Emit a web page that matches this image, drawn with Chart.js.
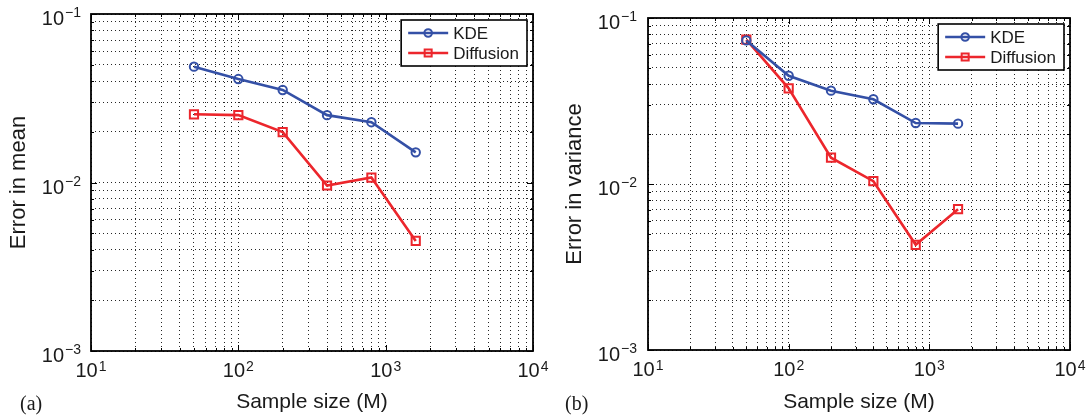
<!DOCTYPE html>
<html>
<head>
<meta charset="utf-8">
<script src="https://cdn.jsdelivr.net/npm/chart.js@4.4.0/dist/chart.umd.min.js"></script>
<style>
    html, body { margin: 0; padding: 0; background: #fff; }
    #wrap { position: relative; width: 1090px; height: 418px; overflow: hidden; }
    .panel { position: absolute; top: 0; height: 418px; }
    #panelA { left: 0; width: 560px; }
    #panelB { left: 545px; width: 545px; }
</style>
</head>
<body>
<div id="wrap">
    <div class="panel" id="panelA"><canvas id="meanChart" width="560" height="418"></canvas></div>
    <div class="panel" id="panelB"><canvas id="varChart" width="545" height="418"></canvas></div>
</div>
<script>
// --- data ---
const sampleSizes = [50, 100, 200, 400, 800, 1600];
const seriesNames = ['KDE', 'Diffusion'];

const meanKDE       = [0.0487, 0.0411, 0.0354, 0.0251, 0.0228, 0.0151];
const meanDiffusion = [0.0254, 0.0251, 0.0199, 0.0096, 0.0107, 0.0045];

const varKDE        = [0.0733, 0.0449, 0.0365, 0.0324, 0.0233, 0.0231];
const varDiffusion  = [0.0740, 0.0377, 0.0144, 0.0104, 0.0043, 0.00705];

// decade tick labels (10^exp)
const xTickExps = [1, 2, 3, 4];
const yTickExps = [-3, -2, -1];
const minorSteps = [1, 2, 3, 4, 5, 6, 7, 8, 9];

const BLUE = '#3450a6';
const RED = '#ec262c';
const SANS = '"Liberation Sans", Arial, Helvetica, sans-serif';

function gridValues(exps) {
    const vals = [];
    exps.forEach(function (e, i) {
        if (i === exps.length - 1) { vals.push(Math.pow(10, e)); return; }
        minorSteps.forEach(function (m) { vals.push(m * Math.pow(10, e)); });
    });
    return vals;
}

function isDecade(v) {
    const l = Math.log10(v);
    return Math.abs(l - Math.round(l)) < 1e-9;
}

function drawPower(ctx, exp, x, y, align, raise) {
    const base = '10';
    const sup = (exp < 0 ? '\u2212' : '') + Math.abs(exp);
    ctx.font = '20px ' + SANS;
    const wb = ctx.measureText(base).width;
    ctx.font = '14px ' + SANS;
    const ws = ctx.measureText(sup).width;
    const total = wb + ws + 1;
    let x0 = align === 'right' ? x - total : x - total / 2;
    ctx.textAlign = 'left';
    ctx.textBaseline = 'alphabetic';
    ctx.font = '20px ' + SANS;
    ctx.fillText(base, x0, y);
    ctx.font = '14px ' + SANS;
    ctx.fillText(sup, x0 + wb + 1, y - raise);
}

// frame, inward ticks, decade labels, legend, panel tag
const matlabAxes = {
    id: 'matlabAxes',
    afterDraw(chart, args, opts) {
        const { ctx, chartArea: a, scales: { x, y } } = chart;
        ctx.save();
        ctx.fillStyle = '#1a1a1a';
        ctx.strokeStyle = '#000';

        // inward ticks
        ctx.lineWidth = 1;
        ctx.beginPath();
        x.ticks.forEach(function (t) {
            const px = Math.round(x.getPixelForValue(t.value)) + 0.5;
            const len = isDecade(t.value) ? 6 : 3;
            ctx.moveTo(px, a.bottom); ctx.lineTo(px, a.bottom - len);
            ctx.moveTo(px, a.top); ctx.lineTo(px, a.top + len);
        });
        y.ticks.forEach(function (t) {
            const py = Math.round(y.getPixelForValue(t.value)) + 0.5;
            const len = isDecade(t.value) ? 6 : 3;
            ctx.moveTo(a.left, py); ctx.lineTo(a.left + len, py);
            ctx.moveTo(a.right, py); ctx.lineTo(a.right - len, py);
        });
        ctx.stroke();

        // box
        ctx.lineWidth = 1.8;
        ctx.strokeRect(a.left, a.top, a.right - a.left, a.bottom - a.top);

        // decade labels
        xTickExps.forEach(function (e) {
            drawPower(ctx, e, x.getPixelForValue(Math.pow(10, e)), a.bottom + 26, 'center', 6);
        });
        yTickExps.forEach(function (e) {
            drawPower(ctx, e, a.left - opts.labelGap, y.getPixelForValue(Math.pow(10, e)) + 11, 'right', 8);
        });

        // legend
        ctx.font = '17px ' + SANS;
        let textW = 0;
        chart.data.datasets.forEach(function (d) { textW = Math.max(textW, ctx.measureText(d.label).width); });
        const lw = 52 + textW + 8, lh = 46;
        const lx = a.right - 6 - lw, ly = a.top + 6;
        ctx.fillStyle = '#fff';
        ctx.fillRect(lx, ly, lw, lh);
        ctx.lineWidth = 1.6;
        ctx.strokeStyle = '#000';
        ctx.strokeRect(lx, ly, lw, lh);
        chart.data.datasets.forEach(function (d, i) {
            const ry = ly + 13 + i * 20;
            ctx.strokeStyle = d.borderColor;
            ctx.lineWidth = 2.5;
            ctx.beginPath();
            ctx.moveTo(lx + 7, ry); ctx.lineTo(lx + 47, ry);
            ctx.stroke();
            ctx.lineWidth = 2;
            ctx.beginPath();
            if (d.pointStyle === 'rect') {
                ctx.rect(lx + 27 - 3.5, ry - 3.5, 7, 7);
            } else {
                ctx.arc(lx + 27, ry, 3.8, 0, Math.PI * 2);
            }
            ctx.stroke();
            ctx.fillStyle = '#1a1a1a';
            ctx.textAlign = 'left';
            ctx.textBaseline = 'middle';
            ctx.fillText(d.label, lx + 52, ry + 1);
        });

        // panel tag
        ctx.fillStyle = '#1a1a1a';
        ctx.font = '20px "Liberation Serif", "Times New Roman", serif';
        ctx.textAlign = 'left';
        ctx.textBaseline = 'alphabetic';
        ctx.fillText(opts.tag, 20, 410);
        ctx.restore();
    }
};

function makeChart(canvasId, kde, diffusion, yTitle, cfg) {
    const ctx = document.getElementById(canvasId).getContext('2d');
    return new Chart(ctx, {
        type: 'line',
        data: {
            datasets: [
                {
                    label: seriesNames[0],
                    data: sampleSizes.map(function (s, i) { return { x: s, y: kde[i] }; }),
                    borderColor: BLUE,
                    borderWidth: 2.6,
                    pointStyle: 'circle',
                    pointRadius: 4.2,
                    pointBorderWidth: 2,
                    pointBorderColor: BLUE,
                    pointBackgroundColor: 'rgba(255,255,255,0)',
                    tension: 0
                },
                {
                    label: seriesNames[1],
                    data: sampleSizes.map(function (s, i) { return { x: s, y: diffusion[i] }; }),
                    borderColor: RED,
                    borderWidth: 2.6,
                    pointStyle: 'rect',
                    pointRadius: 5.8,
                    pointBorderWidth: 2,
                    pointBorderColor: RED,
                    pointBackgroundColor: 'rgba(255,255,255,0)',
                    tension: 0
                }
            ]
        },
        options: {
            responsive: false,
            animation: false,
            layout: { padding: { left: 0, top: cfg.top, right: cfg.right, bottom: 0 } },
            plugins: {
                legend: { display: false },
                tooltip: { enabled: false },
                matlabAxes: { tag: cfg.tag, labelGap: cfg.labelGap }
            },
            scales: {
                x: {
                    type: 'logarithmic',
                    min: Math.pow(10, xTickExps[0]),
                    max: Math.pow(10, xTickExps[xTickExps.length - 1]),
                    afterBuildTicks: function (s) { s.ticks = gridValues(xTickExps).map(function (v) { return { value: v }; }); },
                    afterFit: function (s) { s.height = 418 - cfg.bottom; },
                    ticks: { display: false },
                    grid: { color: 'rgba(0,0,0,0.85)', lineWidth: 1, drawTicks: false },
                    border: { display: false, dash: [1, 3] },
                    title: {
                        display: true,
                        text: 'Sample size (M)',
                        color: '#1a1a1a',
                        font: { family: SANS, size: 21, lineHeight: 1.2 },
                        padding: { top: 0, bottom: 3 }
                    }
                },
                y: {
                    type: 'logarithmic',
                    min: Math.pow(10, yTickExps[0]),
                    max: Math.pow(10, yTickExps[yTickExps.length - 1]),
                    afterBuildTicks: function (s) { s.ticks = gridValues(yTickExps).map(function (v) { return { value: v }; }); },
                    afterFit: function (s) { s.width = cfg.left; },
                    ticks: { display: false },
                    grid: { color: 'rgba(0,0,0,0.85)', lineWidth: 1, drawTicks: false },
                    border: { display: false, dash: [1, 3] },
                    title: {
                        display: true,
                        text: yTitle,
                        color: '#1a1a1a',
                        font: { family: SANS, size: 22, lineHeight: 1.2 },
                        padding: { top: cfg.titlePad, bottom: 0 }
                    }
                }
            }
        },
        plugins: [matlabAxes]
    });
}

makeChart('meanChart', meanKDE, meanDiffusion, 'Error in mean',
    { left: 91, right: 27, top: 14, bottom: 351, titlePad: 6, labelGap: 10, tag: '(a)' });
makeChart('varChart', varKDE, varDiffusion, 'Error in variance',
    { left: 103, right: 20, top: 18, bottom: 350, titlePad: 17, labelGap: 11, tag: '(b)' });
</script>
</body>
</html>
